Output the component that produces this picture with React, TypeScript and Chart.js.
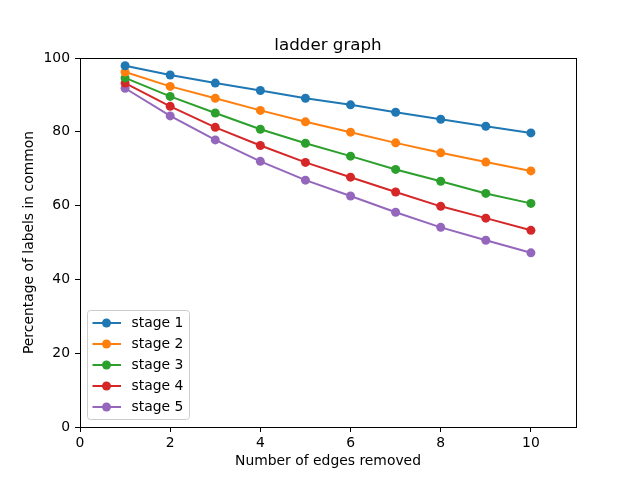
import React, { useEffect, useRef } from "react"
import { Chart, registerables } from "chart.js"

Chart.register(...registerables)

const edgesRemoved = [1, 2, 3, 4, 5, 6, 7, 8, 9, 10]
const stageLabels = ["stage 1", "stage 2", "stage 3", "stage 4", "stage 5"]
const stage1 = [97.9, 95.4, 93.2, 91.2, 89.1, 87.3, 85.3, 83.4, 81.5, 79.7]
const stage2 = [96.2, 92.3, 89.1, 85.8, 82.7, 79.9, 77.0, 74.3, 71.8, 69.4]
const stage3 = [94.6, 89.6, 85.1, 80.7, 76.9, 73.4, 69.8, 66.6, 63.3, 60.6]
const stage4 = [93.2, 86.9, 81.2, 76.3, 71.7, 67.7, 63.7, 59.8, 56.6, 53.3]
const stage5 = [91.8, 84.3, 77.8, 72.0, 66.9, 62.6, 58.2, 54.1, 50.6, 47.2]
const xTicks = [0, 2, 4, 6, 8, 10]
const yTicks = [0, 20, 40, 60, 80, 100]
const chartTitle = "ladder graph"

const colors = ["#1f77b4", "#ff7f0e", "#2ca02c", "#d62728", "#9467bd"]
const FONT = "'DejaVu Sans', sans-serif"

// full box around the plot plus the title centred over the plot area
const frame = {
  id: "frame",
  afterDraw(chart: Chart) {
    const { ctx, chartArea } = chart
    ctx.save()
    ctx.strokeStyle = "#000"
    ctx.lineWidth = 1
    ctx.strokeRect(
      Math.round(chartArea.left) + 0.5,
      Math.round(chartArea.top) + 0.5,
      Math.round(chartArea.right - chartArea.left),
      Math.round(chartArea.bottom - chartArea.top)
    )
    ctx.fillStyle = "#000"
    ctx.font = `16.7px ${FONT}`
    ctx.textAlign = "center"
    ctx.textBaseline = "alphabetic"
    ctx.fillText(chartTitle, (chartArea.left + chartArea.right) / 2, chartArea.top - 8)
    ctx.restore()
  },
}

// legend drawn inside the plot, lower left
const insideLegend = {
  id: "insideLegend",
  afterDraw(chart: Chart) {
    const { ctx, chartArea } = chart
    const sets = chart.data.datasets
    const rowH = 21
    const boxW = 102
    const boxH = 109
    const x0 = chartArea.left + 7.5
    const y0 = chartArea.bottom - 7.5 - boxH
    ctx.save()
    ctx.beginPath()
    ctx.roundRect(x0, y0, boxW, boxH, 3)
    ctx.fillStyle = "rgba(255,255,255,0.8)"
    ctx.fill()
    ctx.strokeStyle = "#cccccc"
    ctx.lineWidth = 1
    ctx.stroke()
    ctx.font = `13.9px ${FONT}`
    ctx.textBaseline = "middle"
    ctx.textAlign = "left"
    sets.forEach((ds: any, i: number) => {
      const y = y0 + 12.5 + i * rowH
      ctx.strokeStyle = ds.borderColor
      ctx.lineWidth = 2
      ctx.beginPath()
      ctx.moveTo(x0 + 5, y)
      ctx.lineTo(x0 + 33.5, y)
      ctx.stroke()
      ctx.fillStyle = ds.backgroundColor
      ctx.beginPath()
      ctx.arc(x0 + 19, y, 4.5, 0, Math.PI * 2)
      ctx.fill()
      ctx.fillStyle = "#000"
      ctx.fillText(ds.label, x0 + 44, y)
    })
    ctx.restore()
  },
}

const App: React.FC = () => {
  const chartRef = useRef<HTMLCanvasElement | null>(null)

  useEffect(() => {
    if (!chartRef.current) return
    const ctx = chartRef.current.getContext("2d")
    if (!ctx) return
    const series = [stage1, stage2, stage3, stage4, stage5]
    const chart = new Chart(ctx, {
      type: "line",
      data: {
        datasets: series.map((vals, i) => ({
          label: stageLabels[i],
          data: vals.map((v, j) => ({ x: edgesRemoved[j], y: v })),
          borderColor: colors[i],
          backgroundColor: colors[i],
          borderWidth: 2,
          pointRadius: 4.5,
          pointHoverRadius: 4.5,
          pointBorderWidth: 0,
          tension: 0,
        })),
      },
      options: {
        animation: false,
        responsive: false,
        devicePixelRatio: 1,
        layout: { padding: { left: 0, right: 64, top: 58, bottom: 0 } },
        plugins: {
          legend: { display: false },
          tooltip: { enabled: false },
          title: { display: false },
        },
        scales: {
          x: {
            type: "linear",
            min: 0,
            max: 11,
            afterBuildTicks: (scale: any) => {
              scale.ticks = xTicks.map((v) => ({ value: v }))
            },
            afterFit: (scale: any) => {
              scale.height = 53
            },
            grid: {
              drawOnChartArea: false,
              drawTicks: true,
              tickLength: 5,
              tickColor: "#000",
            },
            border: { display: true, color: "#000", width: 1 },
            ticks: {
              color: "#000",
              font: { family: FONT, size: 13.9 },
              padding: 3,
              maxRotation: 0,
            },
            title: {
              display: true,
              text: "Number of edges removed",
              color: "#000",
              font: { family: FONT, size: 13.9 },
              padding: { top: 0, bottom: 10 },
            },
          },
          y: {
            type: "linear",
            min: 0,
            max: 100,
            afterBuildTicks: (scale: any) => {
              scale.ticks = yTicks.map((v) => ({ value: v }))
            },
            afterFit: (scale: any) => {
              scale.width = 80
            },
            grid: {
              drawOnChartArea: false,
              drawTicks: true,
              tickLength: 5,
              tickColor: "#000",
            },
            border: { display: true, color: "#000", width: 1 },
            ticks: {
              color: "#000",
              font: { family: FONT, size: 13.9 },
              padding: 5,
            },
            title: {
              display: true,
              text: "Percentage of labels in common",
              color: "#000",
              font: { family: FONT, size: 13.9 },
              padding: { top: 21, bottom: 0 },
            },
          },
        },
      },
      plugins: [frame, insideLegend],
    })

    return () => {
      chart.destroy()
    }
  }, [])

  return (
    <div style={{ position: "absolute", left: 0, top: 0, width: 640, height: 480, background: "#fff" }}>
      <canvas ref={chartRef} width={640} height={480} />
    </div>
  )
}

export default App
